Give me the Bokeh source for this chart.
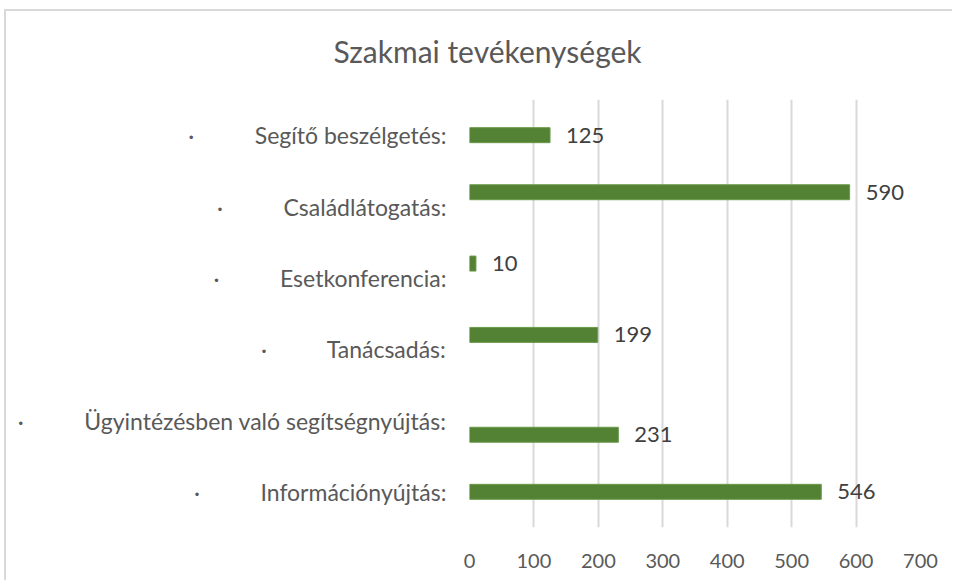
from bokeh.plotting import figure
from bokeh.models import ColumnDataSource, FactorRange, FixedTicker, LabelSet
from bokeh.core.properties import value
from bokeh.embed import file_html
from bokeh.resources import INLINE

# ---- data (top to bottom as in the reference) ----
categories = [
    "Segítő beszélgetés:",
    "Családlátogatás:",
    "Esetkonferencia:",
    "Tanácsadás:",
    "Ügyintézésben való segítségnyújtás:",
    "Információnyújtás:",
]
values = [125, 590, 10, 199, 231, 546]
x_ticks = [0, 100, 200, 300, 400, 500, 600, 700]

# layout-only: small vertical shift of each bar relative to its category (as in the reference)
bar_shift = [0.0, 0.2, 0.2, 0.2, -0.2, 0.0]

FONT = "Lato"
GREY = "#595959"

bullet = "\u00b7\u2003\u2003\u2003\u2009 "
labels = [bullet + c for c in categories]

src = ColumnDataSource(dict(
    y=[(lab, s) for lab, s in zip(labels, bar_shift)],
    v=values,
    t=[str(v) for v in values],
))

p = figure(
    width=952, height=580,
    y_range=FactorRange(factors=list(reversed(labels))),
    x_range=(0, 700),
    output_backend="svg", toolbar_location=None,
    min_border_left=469, min_border_right=32, min_border_top=99, min_border_bottom=53,
    title="Szakmai tevékenységek",
)
p.title.align = "left"
p.title.offset = -136
p.title.vertical_align = "middle"
p.title.text_font = FONT
p.title.text_font_size = "30px"
p.title.text_font_style = "normal"
p.title.text_color = GREY
p.title.standoff = 60

p.hbar(y="y", right="v", left=0, height=0.21, source=src,
       fill_color="#548235", line_color="#6a9a4a", line_width=1)

p.add_layout(LabelSet(x="v", y="y", text="t", source=src, x_offset=16,
                      text_baseline="middle", text_font=value(FONT),
                      text_font_size="22px", text_color="#404040"))

p.outline_line_color = None
p.border_fill_color = None
p.background_fill_color = None
p.ygrid.grid_line_color = None
p.xgrid.grid_line_color = "#d9d9d9"
p.xgrid.grid_line_width = 2
p.xaxis.ticker = FixedTicker(ticks=x_ticks)
for ax in (p.xaxis[0], p.yaxis[0]):
    ax.axis_line_color = None
    ax.major_tick_line_color = None
    ax.minor_tick_line_color = None
    ax.major_tick_out = 0
    ax.major_tick_in = 0
    ax.major_label_text_font = FONT
    ax.major_label_text_color = GREY
p.xaxis.major_label_text_font_size = "20px"
p.yaxis.major_label_text_font_size = "23px"
p.xaxis.major_label_standoff = 26
p.yaxis.major_label_standoff = 23

# chart-area border (left and top edges, as in the reference)
p.styles = {
    "background-color": "white",
    "background-image": "linear-gradient(#d9d9d9, #d9d9d9), linear-gradient(#d9d9d9, #d9d9d9)",
    "background-position": "4px 9px, 4px 9px",
    "background-size": "2px 100%, 100% 2px",
    "background-repeat": "no-repeat",
}

open("out.html", "w").write(file_html(p, INLINE))
